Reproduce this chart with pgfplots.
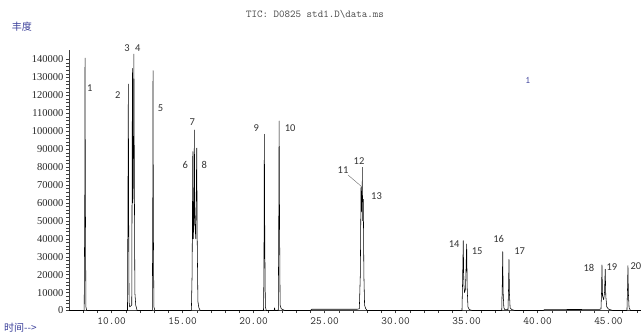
\documentclass[border=0pt]{standalone}
\usepackage{pgfplots}
\pgfplotsset{compat=1.18}
\usepackage{fontspec}
\setmainfont{Liberation Serif}
\newfontfamily\labfont{Carlito}
\newfontfamily\cjk{Noto Sans CJK SC}
\definecolor{axblue}{HTML}{3A3F9A}
\begin{document}
\begin{tikzpicture}[x=1pt,y=1pt]
\path[use as bounding box] (0,0) rectangle (641,334);
\begin{axis}[
  at={(69pt,23.5pt)}, anchor=south west,
  scale only axis, width=572pt, height=260pt,
  xmin=7.0, xmax=47.29, ymin=0, ymax=145000,
  axis x line=bottom, axis y line=left,
  axis line style={-, black!75, line width=0.5pt},
  clip=false,
  xtick={10,15,20,25,30,35,40,45},
  xticklabels={10.00,15.00,20.00,25.00,30.00,35.00,40.00,45.00},
  minor xtick={8,9,11,12,13,14,16,17,18,19,21,22,23,24,26,27,28,29,31,32,33,34,36,37,38,39,41,42,43,44,46,47},
  ytick={0,10000,...,140000},
  minor y tick num=4,
  tick align=outside,
  major tick length=3pt, minor tick length=2.5pt,
  tick style={black!75, line width=0.4pt},
  xticklabel style={font=\ttfamily\fontsize{11}{11}\selectfont, text=black!85, yshift=-1pt},
  yticklabel style={font=\fontsize{10.5}{10.5}\selectfont, text=black!85, xshift=1pt},
  scaled y ticks=false,
  /pgf/number format/assume math mode=true,
  /pgf/number format/1000 sep={},
  /pgf/number format/fixed,
]
\addplot[black, line width=0.55pt, line join=round] coordinates {
(7.0,0) (8.07,0) (8.11,60000) (8.13,140800) (8.15,70000) (8.19,2000) (8.25,0)
(11.12,0) (11.16,80000) (11.18,126300) (11.20,60000) (11.23,5000) (11.27,2000)
(11.42,3000) (11.45,90000) (11.47,135000) (11.50,60000) (11.53,70000) (11.57,143000) (11.60,80000) (11.64,10000) (11.70,3000) (11.80,0)
(12.87,0) (12.90,60000) (12.92,133800) (12.94,50000) (12.98,2000) (13.05,0)
(15.62,0) (15.67,20000) (15.70,60000) (15.72,88600) (15.75,40000) (15.80,50000) (15.83,100700) (15.86,50000) (15.93,40000) (15.97,70000) (16.00,90600) (16.03,40000) (16.08,5000) (16.15,1500) (16.25,0)
(20.70,0) (20.73,20000) (20.76,98300) (20.79,40000) (20.83,2000) (20.90,0)
(21.45,0) (21.48,1500) (21.51,0)
(21.74,0) (21.77,40000) (21.80,105700) (21.83,50000) (21.87,3000) (21.95,1000) (22.20,0)
(24.0,0) (24.1,700) (27.3,700)
(27.45,1000) (27.52,20000) (27.57,69100) (27.60,55000) (27.66,72800) (27.69,50000) (27.73,62000) (27.77,20000) (27.82,3000) (27.90,1000) (28.0,0)
(34.68,0) (34.72,15000) (34.77,38900) (34.81,15000) (34.86,10000) (34.93,12000) (35.01,37100) (35.05,12000) (35.10,2000) (35.20,500) (35.40,0)
(37.48,0) (37.52,15000) (37.55,32800) (37.58,10000) (37.63,1500) (37.70,500)
(37.92,500) (37.96,12000) (37.99,28500) (38.02,10000) (38.07,1500) (38.20,500) (38.40,0)
(40.4,0) (40.5,500) (44.3,600)
(44.47,800) (44.51,10000) (44.54,25400) (44.58,8000) (44.66,6000) (44.72,10000) (44.77,23000) (44.81,8000) (44.88,2000) (45.0,800) (45.3,0)
(46.30,0) (46.34,12000) (46.37,25000) (46.40,10000) (46.45,1500) (46.55,0) (47.29,0)
};
\begin{scope}[every node/.style={font=\labfont\fontsize{10.5}{11}\selectfont, text=black!80, inner sep=0pt}]
\node at (axis cs:8.47,124000) {1};
\node at (axis cs:10.44,120200) {2};
\node at (axis cs:11.08,146400) {3};
\node at (axis cs:11.85,146400) {4};
\node at (axis cs:13.45,112900) {5};
\node at (axis cs:15.19,81200) {6};
\node at (axis cs:15.68,105100) {7};
\node at (axis cs:16.53,81200) {8};
\node at (axis cs:20.19,101800) {9};
\node at (axis cs:22.58,101800) {10};
\node at (axis cs:26.30,78400) {11};
\node at (axis cs:27.43,83400) {12};
\node at (axis cs:28.66,63900) {13};
\node at (axis cs:34.13,37100) {14};
\node at (axis cs:35.75,33200) {15};
\node at (axis cs:37.26,39900) {16};
\node at (axis cs:38.74,33200) {17};
\node at (axis cs:43.62,23700) {18};
\node at (axis cs:45.24,24300) {19};
\node at (axis cs:46.93,24800) {20};
\end{scope}
\draw[black!60, line width=0.4pt] (axis cs:26.65,75600) -- (axis cs:27.55,69500);
\draw[black!60, line width=0.4pt] (axis cs:27.62,80000) -- (axis cs:27.62,73000);
\node[font=\ttfamily\fontsize{10}{10}\selectfont, text=axblue] at (axis cs:39.33,128500) {1};
\end{axis}
\node[font=\ttfamily\fontsize{10.5}{10.5}\selectfont, text=black!70] at (315,320) {TIC: D0825 std1.D\textbackslash data.ms};
\node[font=\cjk\fontsize{10}{10}\selectfont, text=axblue] at (22,307) {丰度};
\node[font=\cjk\fontsize{10}{10}\selectfont, text=axblue, anchor=west, inner sep=0pt] at (4,6) {时间-{}-{}>};
\end{tikzpicture}
\end{document}
